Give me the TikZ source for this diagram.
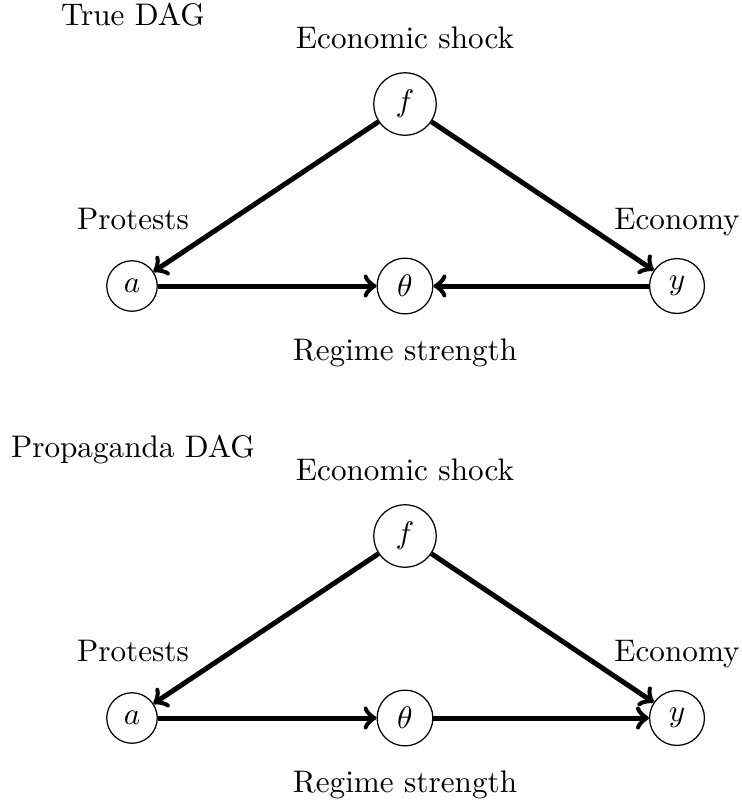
\documentclass[tikz,border=0pt]{standalone}
\begin{document}
\begin{tikzpicture}[x=0.3205pt,y=-0.3205pt,
  var/.style={circle,draw,thin},
  lab/.style={inner sep=0pt,anchor=base},
  edge/.style={->,ultra thick}]
\useasboundingbox (0,0) rectangle (742,805);
% True DAG
\node[lab] (t1) at (133,25) {True DAG};
\node[var] (f1) at (405,104) {$f$};
\node[var] (a1) at (132,286) {$a$};
\node[var] (th1) at (405,286) {$\theta$};
\node[var] (y1) at (677,286) {$y$};
\node[lab] (lf1) at (405,48) {Economic shock};
\node[lab] (la1) at (133,229) {Protests};
\node[lab] (ly1) at (677,229) {Economy};
\node[lab] (lt1) at (405,360) {Regime strength};
\draw[edge] (f1) -- (a1);
\draw[edge] (f1) -- (y1);
\draw[edge] (a1) -- (th1);
\draw[edge] (y1) -- (th1);
% Propaganda DAG
\node[lab] (t2) at (133,457) {Propaganda DAG};
\node[var] (f2) at (405,536) {$f$};
\node[var] (a2) at (132,718) {$a$};
\node[var] (th2) at (405,718) {$\theta$};
\node[var] (y2) at (677,718) {$y$};
\node[lab] (lf2) at (405,480) {Economic shock};
\node[lab] (la2) at (133,661) {Protests};
\node[lab] (ly2) at (677,661) {Economy};
\node[lab] (lt2) at (405,792) {Regime strength};
\draw[edge] (f2) -- (a2);
\draw[edge] (f2) -- (y2);
\draw[edge] (a2) -- (th2);
\draw[edge] (th2) -- (y2);
\end{tikzpicture}
\end{document}
